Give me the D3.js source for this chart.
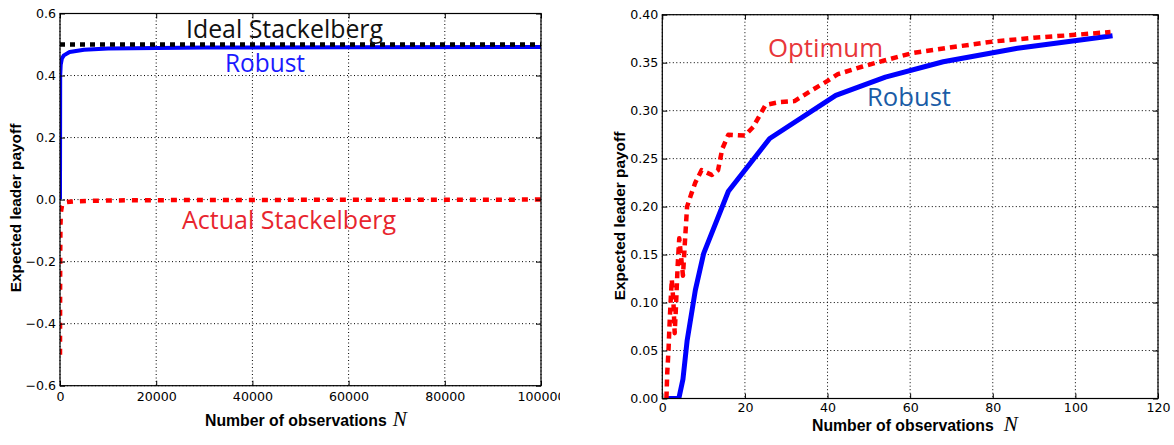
<!DOCTYPE html>
<meta charset="utf-8">
<style>
body { margin: 0; background: #fff; }
svg { display: block; }
.tick text { font-family: "DejaVu Sans", sans-serif; font-size: 12.6px; fill: #000; }
.tick line { stroke: #000; stroke-width: 1; }
.grid line { stroke: #000; stroke-width: 1; stroke-dasharray: 1,2.5; }
.frame { fill: none; stroke: #000; stroke-width: 1.2; }
.lbl { font-family: "Liberation Sans", Arial, sans-serif; font-weight: bold; font-size: 15.8px; }
.ylbl { font-size: 15.4px; }
.mathN { font-family: "Liberation Serif", serif; font-style: italic; font-weight: normal; font-size: 21px; }
.note { font-family: "Open Sans", sans-serif; font-size: 25px; }
</style>
<svg width="1174" height="445"></svg>
<script src="https://d3js.org/d3.v7.min.js"></script>
<script>

// left panel: N up to 100000
var idealN = [0, 100000];
var idealV = [0.5, 0.5];
var robustN = [0, 40, 150, 400, 800, 2000, 5000, 10000, 30000, 60000, 100000];
var robustV = [0.0, 0.40, 0.435, 0.455, 0.465, 0.476, 0.483, 0.487, 0.490, 0.491, 0.492];
var actualN = [0, 30, 60, 100, 200, 400, 700, 1500, 3000, 6000, 15000, 40000, 100000];
var actualV = [-0.5, -0.25, -0.15, -0.08, -0.04, -0.02, -0.01, -0.008, -0.006, -0.004, -0.002, -0.001, 0.0];

// right panel: N up to 120
var optN = [1, 1.2, 1.5, 1.7, 2.0, 2.3, 2.7, 3.0, 3.3, 3.7, 4.1, 4.5, 5.0, 5.5, 6.0, 7.0, 8.0, 9.5, 12.0, 13.5, 14.5, 16, 20, 22, 25, 28.5, 32, 36.5, 40, 42.5, 48.5, 53.5, 60.5, 70, 80, 90, 100, 108.5];
var optV = [0, 0.027, 0.05, 0.072, 0.1, 0.124, 0.1, 0.068, 0.095, 0.137, 0.167, 0.15, 0.128, 0.165, 0.2, 0.213, 0.225, 0.238, 0.233, 0.238, 0.26, 0.275, 0.274, 0.283, 0.306, 0.309, 0.31, 0.322, 0.331, 0.338, 0.346, 0.352, 0.36, 0.366, 0.372, 0.376, 0.379, 0.382];
var robN = [1, 4, 5, 6, 8, 10, 16, 26, 42, 54, 68, 86, 109];
var robV = [0, 0, 0.02, 0.06, 0.113, 0.151, 0.216, 0.271, 0.316, 0.335, 0.351, 0.365, 0.378];

var leftXTicks = [0, 20000, 40000, 60000, 80000, 100000];
var leftYTicks = [-0.6, -0.4, -0.2, 0.0, 0.2, 0.4, 0.6];
var rightXTicks = [0, 20, 40, 60, 80, 100, 120];
var rightYTicks = [0, 0.05, 0.1, 0.15, 0.2, 0.25, 0.3, 0.35, 0.4];

var svg = d3.select("svg");
var defs = svg.append("defs");
defs.append("clipPath").attr("id", "leftcut")
  .append("rect").attr("x", 0).attr("y", 0).attr("width", 560).attr("height", 445);

function zip(a, b) { return a.map(function(d, i) { return [d, b[i]]; }); }

function panel(o) {
  var g = svg.append("g");
  if (o.clip) g.attr("clip-path", "url(#" + o.clip + ")");
  var x = d3.scaleLinear().domain(o.xdom).range([o.x0, o.x1]);
  var y = d3.scaleLinear().domain(o.ydom).range([o.y1, o.y0]);
  var w = o.x1 - o.x0, h = o.y1 - o.y0;

  var cid = "plot" + o.id;
  defs.append("clipPath").attr("id", cid)
    .append("rect").attr("x", o.x0).attr("y", o.y0).attr("width", w).attr("height", h);

  // grid
  var grid = g.append("g").attr("class", "grid");
  grid.selectAll(".gx").data(o.xticks).enter().append("line")
    .attr("x1", function(d) { return x(d); }).attr("x2", function(d) { return x(d); })
    .attr("y1", o.y0).attr("y2", o.y1);
  grid.selectAll(".gy").data(o.yticks).enter().append("line")
    .attr("y1", function(d) { return y(d); }).attr("y2", function(d) { return y(d); })
    .attr("x1", o.x0).attr("x2", o.x1);

  // series
  var line = d3.line().x(function(d) { return x(d[0]); }).y(function(d) { return y(d[1]); });
  var sg = g.append("g").attr("clip-path", "url(#" + cid + ")");
  o.series.forEach(function(s) {
    sg.append("path")
      .attr("d", line(zip(s.n, s.v)))
      .attr("fill", "none")
      .attr("stroke", s.color)
      .attr("stroke-width", s.width)
      .attr("stroke-dasharray", s.dash || null)
      .attr("stroke-linejoin", "round");
  });

  // axes, ticks inward on all four sides
  g.append("g").attr("transform", "translate(0," + o.y1 + ")")
    .call(d3.axisBottom(x).tickValues(o.xticks).tickSize(-5).tickPadding(o.xpad).tickFormat(o.xfmt))
    .call(function(a) { a.select(".domain").remove(); });
  g.append("g").attr("transform", "translate(0," + o.y0 + ")")
    .call(d3.axisTop(x).tickValues(o.xticks).tickSize(-5).tickFormat(""))
    .call(function(a) { a.select(".domain").remove(); });
  g.append("g").attr("transform", "translate(" + o.x0 + ",0)")
    .call(d3.axisLeft(y).tickValues(o.yticks).tickSize(-5).tickPadding(4).tickFormat(o.yfmt))
    .call(function(a) { a.select(".domain").remove(); });
  g.append("g").attr("transform", "translate(" + o.x1 + ",0)")
    .call(d3.axisRight(y).tickValues(o.yticks).tickSize(-5).tickFormat(""))
    .call(function(a) { a.select(".domain").remove(); });
  g.selectAll(".tick text").attr("fill", "#000");

  g.append("rect").attr("class", "frame")
    .attr("x", o.x0).attr("y", o.y0).attr("width", w).attr("height", h);

  // axis labels
  var xl = g.append("text").attr("class", "lbl").attr("x", o.xlabX).attr("y", o.xlabY);
  xl.append("tspan").text("Number of observations");
  xl.append("tspan").attr("class", "mathN").attr("dx", o.nGap).text("N");

  g.append("text").attr("class", "lbl ylbl")
    .attr("transform", "translate(" + o.ylabX + "," + o.ylabY + ") rotate(-90)")
    .attr("text-anchor", "middle")
    .text("Expected leader payoff");

  o.notes.forEach(function(n) {
    g.append("text").attr("class", "note")
      .attr("x", n.x).attr("y", n.y)
      .attr("fill", n.color)
      .attr("textLength", n.len)
      .attr("lengthAdjust", "spacingAndGlyphs")
      .text(n.t);
  });
}

panel({
  id: "L", clip: "leftcut",
  x0: 60, x1: 541, y0: 13.5, y1: 385.7,
  xdom: [0, 100000], ydom: [-0.6, 0.6],
  xticks: leftXTicks, yticks: leftYTicks,
  xfmt: d3.format("d"), yfmt: d3.format(".1f"), xpad: 6,
  xlabX: 205, xlabY: 426, nGap: 6,
  ylabX: 21, ylabY: 208,
  series: [
    { n: actualN, v: actualV, color: "#ff0000", width: 4.5, dash: "6,7" },
    { n: robustN, v: robustV, color: "#0000ff", width: 4 },
    { n: idealN, v: idealV, color: "#000000", width: 4.5, dash: "5,5" }
  ],
  notes: [
    { t: "Ideal Stackelberg", x: 186, y: 38, len: 197, color: "#111" },
    { t: "Robust", x: 225, y: 72, len: 80, color: "#1a1aff" },
    { t: "Actual Stackelberg", x: 182, y: 229, len: 214, color: "#e8252e" }
  ]
});

panel({
  id: "R",
  x0: 662.3, x1: 1158, y0: 14.7, y1: 398.5,
  xdom: [0, 120], ydom: [0, 0.4],
  xticks: rightXTicks, yticks: rightYTicks,
  xfmt: d3.format("d"), yfmt: d3.format(".2f"), xpad: 5,
  xlabX: 812, xlabY: 431, nGap: 10,
  ylabX: 625, ylabY: 216,
  series: [
    { n: robN, v: robV, color: "#0000ff", width: 5 },
    { n: optN, v: optV, color: "#ff0000", width: 4.5, dash: "7,5" }
  ],
  notes: [
    { t: "Optimum", x: 768, y: 57, len: 115, color: "#e8363a" },
    { t: "Robust", x: 867, y: 106, len: 84, color: "#1a5ca6" }
  ]
});

</script>
